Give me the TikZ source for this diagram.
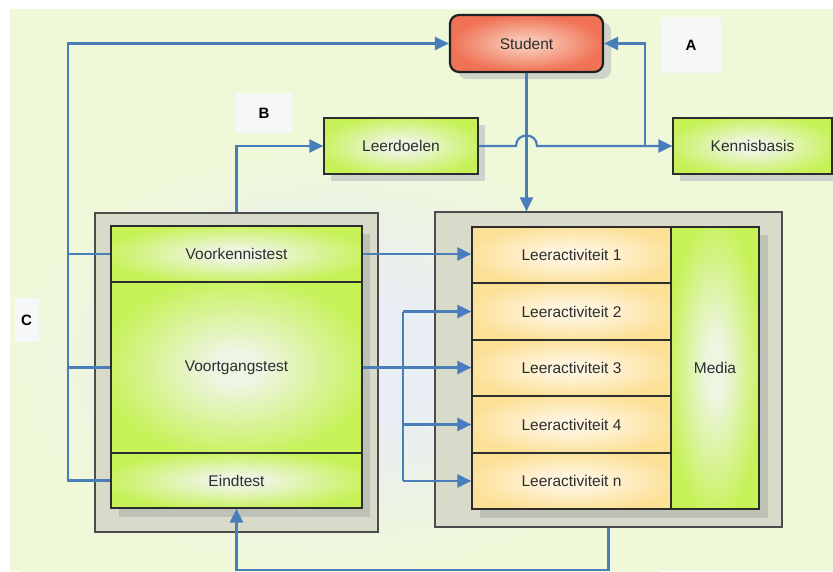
\documentclass[tikz,border=0pt]{standalone}
\usepackage{fontspec}
\setmainfont{Liberation Sans}
\usetikzlibrary{arrows.meta,calc,shadings}

\definecolor{bgout}{RGB}{239,248,217}
\definecolor{bgin}{RGB}{232,238,243}
\definecolor{limeout}{RGB}{198,242,88}
\definecolor{limein}{RGB}{238,245,226}
\definecolor{sandout}{RGB}{252,224,150}
\definecolor{sandin}{RGB}{255,245,222}
\definecolor{salmonout}{RGB}{240,114,84}
\definecolor{salmonin}{RGB}{248,196,178}
\definecolor{trayfill}{RGB}{216,219,201}
\definecolor{trayshade}{RGB}{190,194,182}
\definecolor{flow}{RGB}{74,126,187}
\definecolor{ink}{RGB}{45,45,45}
\definecolor{dropshade}{RGB}{206,211,203}
\definecolor{tagfill}{RGB}{247,249,252}

% the central 50bp square of a shading is fitted to the shaded path
\pgfdeclareradialshading{limeglow}{\pgfpoint{0bp}{0bp}}{color(0bp)=(limein); color(5bp)=(limein); color(27bp)=(limeout); color(50bp)=(limeout)}
\pgfdeclareradialshading{sandglow}{\pgfpoint{0bp}{0bp}}{color(0bp)=(sandin); color(6bp)=(sandin); color(27bp)=(sandout); color(50bp)=(sandout)}
\pgfdeclareradialshading{salmonglow}{\pgfpoint{0bp}{0bp}}{color(0bp)=(salmonin); color(5bp)=(salmonin); color(25bp)=(salmonout); color(50bp)=(salmonout)}
\pgfdeclareradialshading{bgglow}{\pgfpoint{0bp}{0bp}}{color(0bp)=(bgin); color(8bp)=(bgin); color(25bp)=(bgout); color(50bp)=(bgout)}

\tikzset{
  cell/.style={draw=ink, line width=1.2pt, inner sep=0pt, text=ink,
               font=\fontsize{15.5}{18}\selectfont},
  limecell/.style={cell, shade, shading=limeglow},
  sandcell/.style={cell, shade, shading=sandglow},
  tray/.style={draw=ink!85, line width=1.2pt, fill=trayfill, inner sep=0pt},
  tag/.style={fill=tagfill, fill opacity=0.9, text opacity=1, inner sep=0pt,
              font=\bfseries\fontsize{15}{17}\selectfont},
  flowline/.style={draw=flow, line width=2.2pt},
  flowarrow/.style={flowline, -{Triangle[length=14pt,width=13pt]}},
}

\begin{document}
\begin{tikzpicture}[x=1pt, y=-1pt]
\useasboundingbox (0,0) rectangle (833,571);

% backdrop
\fill[bgout] (10,9) rectangle (833,571);
\shade[shading=bgglow] (20,150) rectangle (660,571);

% grey trays with inner drop shadows
\node[tray, minimum width=283pt, minimum height=319pt] (lbox) at (236.5,372.5) {};
\node[tray, minimum width=347pt, minimum height=315pt] (rbox) at (608.5,369.5) {};
\fill[trayshade] (119,234) rectangle (370,517);
\fill[trayshade] (480,235) rectangle (768,518);

% drop shadows of the free-standing boxes
\fill[dropshade, rounded corners=9pt] (458,22) rectangle (611,79);
\fill[dropshade] (331,125) rectangle (485,181);
\fill[dropshade] (680,125) rectangle (833,181);

% test column
\node[limecell, minimum width=251pt, minimum height=56pt] (voork) at (236.5,254) {Voorkennistest};
\node[limecell, minimum width=251pt, minimum height=171pt] (voortg) at (236.5,367.5) {Voortgangstest};
\node[limecell, minimum width=251pt, minimum height=55pt] (eind) at (236.5,480.5) {Eindtest};

% activity column and media
\node[sandcell, minimum width=199pt, minimum height=56pt] (l1) at (571.5,255) {Leeractiviteit 1};
\node[sandcell, minimum width=199pt, minimum height=57pt] (l2) at (571.5,311.5) {Leeractiviteit 2};
\node[sandcell, minimum width=199pt, minimum height=56pt] (l3) at (571.5,368) {Leeractiviteit 3};
\node[sandcell, minimum width=199pt, minimum height=57pt] (l4) at (571.5,424.5) {Leeractiviteit 4};
\node[sandcell, minimum width=199pt, minimum height=56pt] (ln) at (571.5,481) {Leeractiviteit n};
\node[limecell, minimum width=88pt, minimum height=282pt] (media) at (715,368) {Media};

% top row
\node[cell, shade, shading=salmonglow, draw=black!88, line width=2.2pt, rounded corners=9pt,
      minimum width=153pt, minimum height=57pt] (student) at (526.5,43.5) {Student};
\node[limecell, minimum width=154pt, minimum height=56pt] (leerdoelen) at (401,146) {Leerdoelen};
\node[limecell, minimum width=159pt, minimum height=56pt] (kennis) at (752.5,146) {Kennisbasis};

% section tags
\node[tag, minimum width=60pt, minimum height=56pt] (tagA) at (691,45) {A};
\node[tag, minimum width=56pt, minimum height=40pt] (tagB) at (264,113) {B};
\node[tag, minimum width=24pt, minimum height=44pt] (tagC) at (26.5,320) {C};

% routing points
\coordinate (lv) at (68,43);
\coordinate (kj) at (645,146);
\coordinate (bv) at (403,311);
\coordinate (hop) at (student.south |- leerdoelen.east);

% feedback from the tests to the student
\draw[flowline] (voork.west) -- (voork.west -| lv);
\draw[flowline] (voortg.west) -- (voortg.west -| lv);
\draw[flowarrow] (eind.west) -- (eind.west -| lv) |- (student.west);

% student to activities
\draw[flowarrow] (student.south) -- (student.south |- rbox.north);

% tests to learning goals, goals to knowledge base
\draw[flowarrow] (lbox.north) |- (leerdoelen.west);
\draw[flowarrow] (leerdoelen.east) -- ($(hop)+(-10.5,0)$)
  .. controls +(0,-14) and +(0,-14) .. ($(hop)+(10.5,0)$) -- (kennis.west);
\draw[flowarrow] (kj) |- (student.east);

% tests to activities
\draw[flowarrow] (voork.east) -- (voork.east -| l1.west);
\draw[flowarrow] (voortg.east) -- (voortg.east -| l3.west);
\draw[flowline] (bv |- l2.west) -- (bv |- ln.west);
\draw[flowarrow] (bv |- l2.west) -- (l2.west);
\draw[flowarrow] (bv |- l4.west) -- (l4.west);
\draw[flowarrow] (bv |- ln.west) -- (ln.west);

% activities back to the final test
\draw[flowarrow] (rbox.south) -- ++(0,42) -| (eind.south);
\end{tikzpicture}
\end{document}
